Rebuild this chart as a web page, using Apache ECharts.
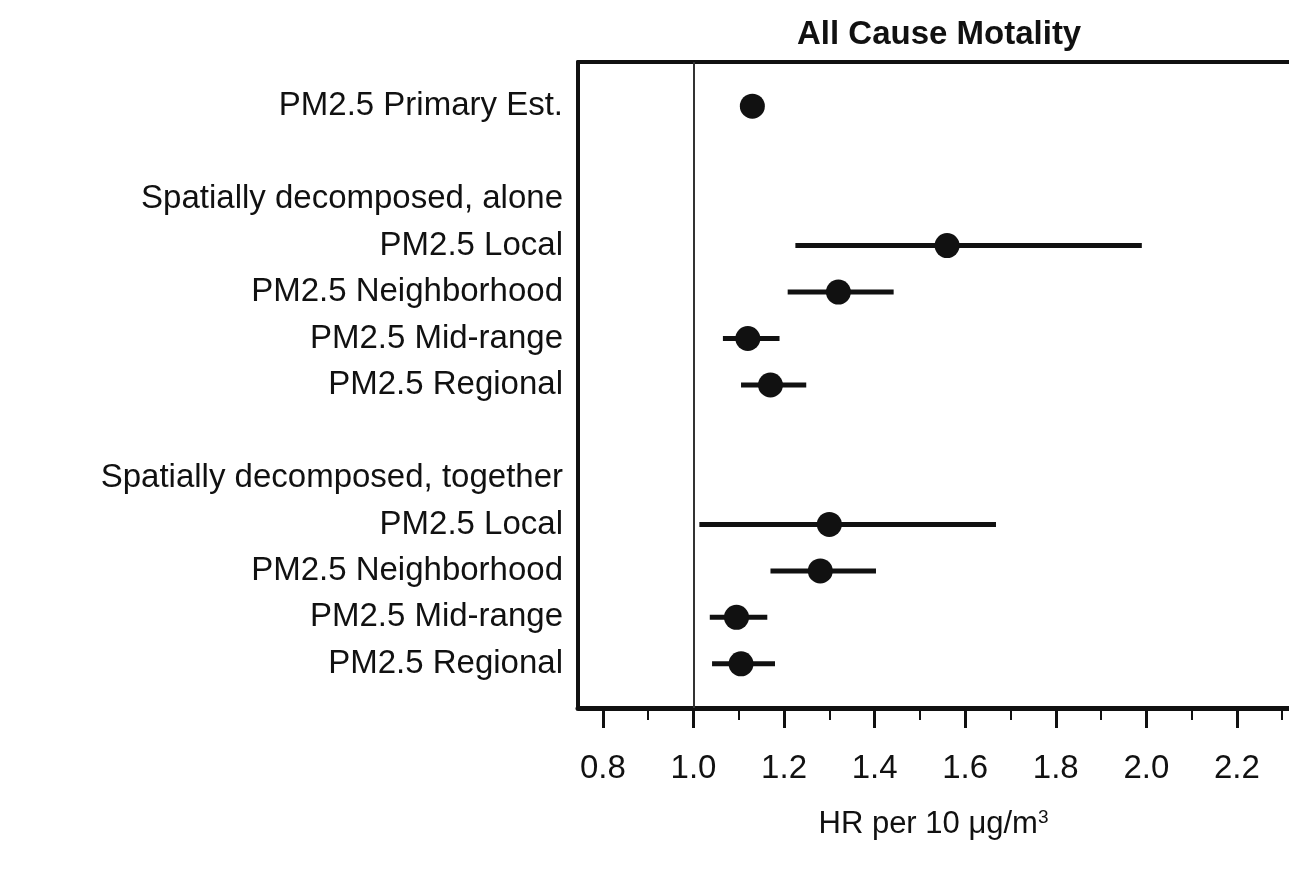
<!DOCTYPE html>
<html>
<head>
<meta charset="utf-8">
<script src="https://cdn.jsdelivr.net/npm/echarts@6/dist/echarts.min.js"></script>
<style>
  html, body { margin: 0; padding: 0; background: #fff; }
  #chart { width: 1289px; height: 872px; }
</style>
</head>
<body>
<div id="chart"></div>
<script>
// rows of the forest plot, top to bottom ('' = empty spacer row)
var rowLabels = [
  'PM2.5 Primary Est.',
  '',
  'Spatially decomposed, alone',
  'PM2.5 Local',
  'PM2.5 Neighborhood',
  'PM2.5 Mid-range',
  'PM2.5 Regional',
  '',
  'Spatially decomposed, together',
  'PM2.5 Local',
  'PM2.5 Neighborhood',
  'PM2.5 Mid-range',
  'PM2.5 Regional'
];
// hazard ratio estimates and 95% CI (null = no marker on that row)
var hrEst  = [1.13, null, null, 1.56, 1.32, 1.12, 1.17, null, null, 1.30, 1.28, 1.095, 1.105];
var ciLow  = [1.12, null, null, 1.225, 1.208, 1.065, 1.105, null, null, 1.013, 1.170, 1.036, 1.041];
var ciHigh = [1.14, null, null, 1.99, 1.442, 1.19, 1.249, null, null, 1.668, 1.403, 1.163, 1.180];

var xMajorTicks = [0.8, 1.0, 1.2, 1.4, 1.6, 1.8, 2.0, 2.2];
var xMinorTicks = [0.9, 1.1, 1.3, 1.5, 1.7, 1.9, 2.1, 2.3];
var refValue = 1.0;

var xMin = 0.745, xMax = 2.315;
var rowIdx = rowLabels.map(function (l, i) { return i; });

var font = 'Liberation Sans, Arial, Helvetica, sans-serif';
var ink = '#111';

var pointData = [];
var ciData = [];
for (var i = 0; i < rowLabels.length; i++) {
  if (hrEst[i] != null) {
    pointData.push([hrEst[i], i]);
    ciData.push([ciLow[i], ciHigh[i], i]);
  }
}

var chart = echarts.init(document.getElementById('chart'));

var gridBox = { left: 578, top: 62, right: 0, bottom: 164 };

var option = {
  animation: false,
  backgroundColor: '#fff',
  title: {
    text: 'All Cause Motality',
    left: 792,
    top: 13,
    textStyle: { fontFamily: font, fontSize: 33, fontWeight: 'bold', color: ink }
  },
  grid: [
    Object.assign({ containLabel: false }, gridBox),
    Object.assign({ containLabel: false }, gridBox)
  ],
  xAxis: [
    {
      type: 'value', gridIndex: 0, position: 'bottom',
      min: xMin, max: xMax,
      axisLine: { show: true, onZero: false, lineStyle: { color: ink, width: 5 } },
      axisTick: { show: true, length: 20, customValues: xMajorTicks, lineStyle: { color: ink, width: 3 } },
      axisLabel: {
        customValues: xMajorTicks,
        margin: 44,
        fontFamily: font, fontSize: 33, color: ink,
        formatter: function (v) { return v.toFixed(1); }
      },
      splitLine: { show: false },
      name: 'HR per 10 μg/m{sup|3}',
      nameLocation: 'middle',
      nameGap: 100,
      nameTextStyle: {
        fontFamily: font, fontSize: 31, color: ink,
        rich: { sup: { fontFamily: font, fontSize: 19, color: ink, verticalAlign: 'top', padding: [0, 0, 14, 0] } }
      }
    },
    {
      type: 'value', gridIndex: 0, position: 'top',
      min: xMin, max: xMax,
      axisLine: { show: true, onZero: false, lineStyle: { color: ink, width: 4 } },
      axisTick: { show: false },
      axisLabel: { show: false },
      splitLine: { show: false }
    },
    {
      type: 'value', gridIndex: 1, position: 'bottom',
      min: xMin, max: xMax,
      axisLine: { show: false, onZero: false },
      axisTick: { show: true, length: 12, customValues: xMinorTicks, lineStyle: { color: ink, width: 2 } },
      axisLabel: { show: false },
      splitLine: { show: false }
    }
  ],
  yAxis: [
    {
      type: 'value', gridIndex: 0, inverse: true,
      min: -0.95, max: rowLabels.length - 1 + 0.95,
      axisLine: { show: true, onZero: false, lineStyle: { color: ink, width: 4 } },
      axisTick: { show: false },
      splitLine: { show: false },
      axisLabel: {
        customValues: rowIdx,
        margin: 15,
        fontFamily: font, fontSize: 33, color: ink,
        formatter: function (v) { return rowLabels[Math.round(v)]; }
      }
    },
    {
      type: 'value', gridIndex: 1, inverse: true,
      min: -0.95, max: rowLabels.length - 1 + 0.95,
      show: false
    }
  ],
  series: [
    {
      type: 'custom',
      name: 'CI',
      xAxisIndex: 0, yAxisIndex: 0,
      data: ciData,
      renderItem: function (params, api) {
        var a = api.coord([api.value(0), api.value(2)]);
        var b = api.coord([api.value(1), api.value(2)]);
        return {
          type: 'line',
          shape: { x1: a[0], y1: a[1], x2: b[0], y2: b[1] },
          style: { stroke: ink, lineWidth: 5 }
        };
      },
      markLine: {
        silent: true,
        symbol: ['none', 'none'],
        label: { show: false },
        lineStyle: { color: '#333', width: 2, type: 'solid', opacity: 1 },
        data: [{ xAxis: refValue }]
      },
      z: 2
    },
    {
      type: 'scatter',
      name: 'HR',
      xAxisIndex: 0, yAxisIndex: 0,
      data: pointData,
      symbol: 'circle',
      symbolSize: 25,
      itemStyle: { color: ink, opacity: 1 },
      z: 3
    }
  ]
};

chart.setOption(option);
</script>
</body>
</html>
